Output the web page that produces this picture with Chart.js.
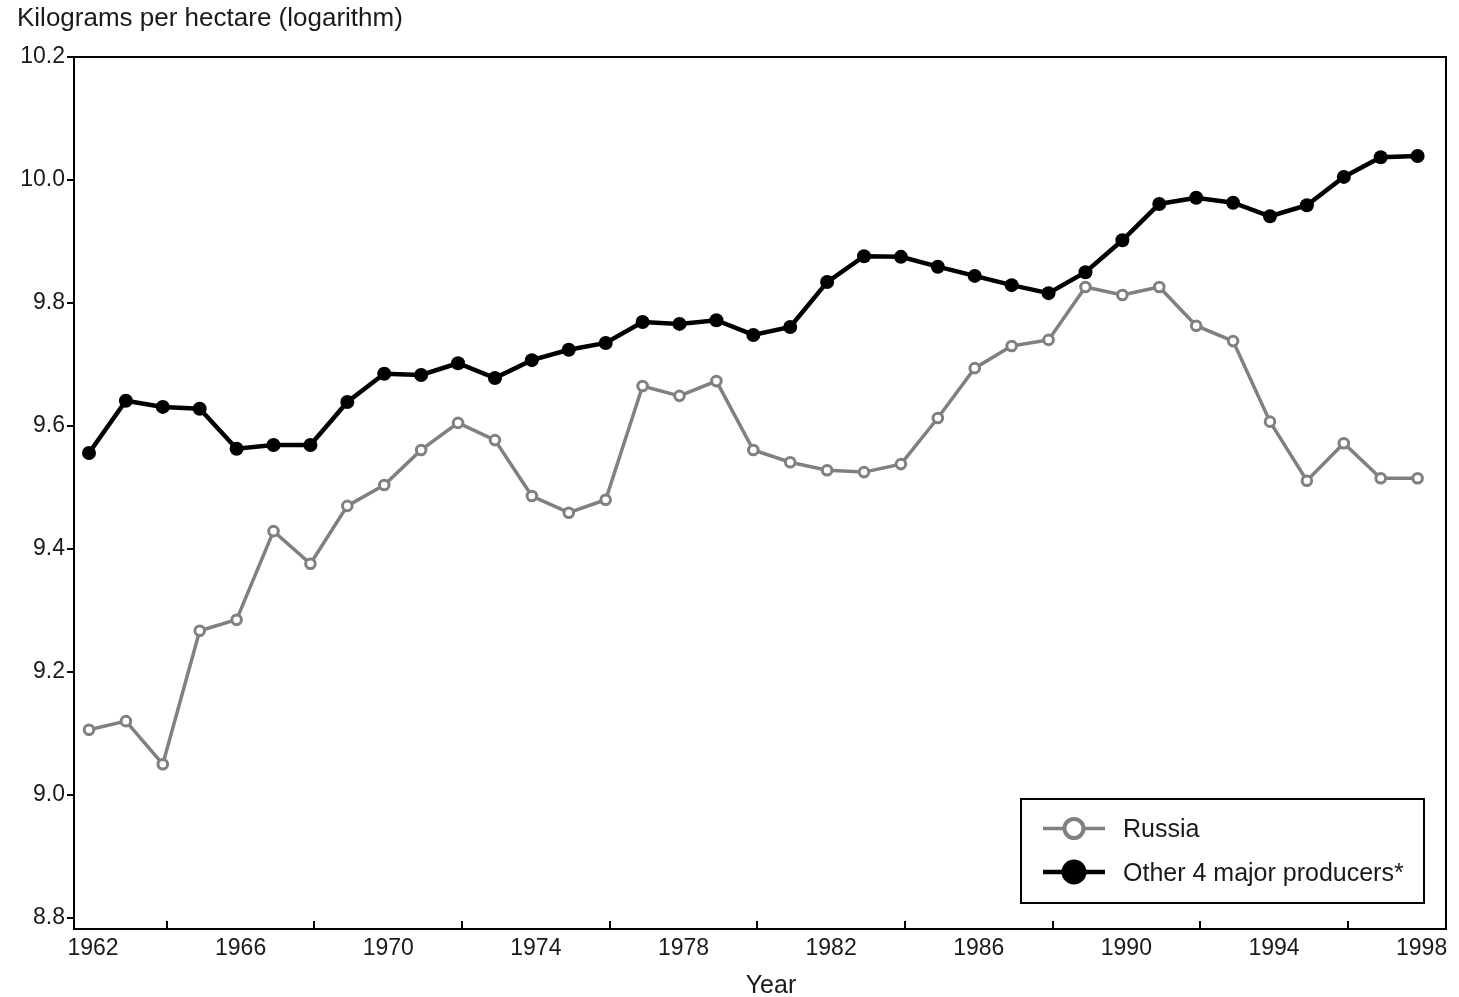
<!DOCTYPE html>
<html>
<head>
<meta charset="utf-8">
<script src="https://cdn.jsdelivr.net/npm/chart.js@4.4.1/dist/chart.umd.min.js"></script>
<style>
  html, body { margin: 0; padding: 0; background: #ffffff; }
  #wrap { width: 1459px; height: 997px; }
</style>
</head>
<body>
<div id="wrap"><canvas id="chart" width="1459" height="997"></canvas></div>
<script>
// Wheat yields, log of kilograms per hectare
const years = [1962, 1963, 1964, 1965, 1966, 1967, 1968, 1969, 1970, 1971,
               1972, 1973, 1974, 1975, 1976, 1977, 1978, 1979, 1980, 1981,
               1982, 1983, 1984, 1985, 1986, 1987, 1988, 1989, 1990, 1991,
               1992, 1993, 1994, 1995, 1996, 1997, 1998];

const russia = [9.106, 9.120, 9.050, 9.267, 9.285, 9.429, 9.376, 9.470, 9.504, 9.561,
                9.605, 9.577, 9.486, 9.459, 9.480, 9.665, 9.649, 9.673, 9.561, 9.541,
                9.528, 9.525, 9.538, 9.613, 9.694, 9.730, 9.740, 9.826, 9.813, 9.826,
                9.763, 9.738, 9.607, 9.511, 9.572, 9.515, 9.515];

const otherProducers = [9.556, 9.641, 9.631, 9.628, 9.563, 9.569, 9.569, 9.639, 9.685, 9.683,
                        9.702, 9.678, 9.707, 9.724, 9.735, 9.769, 9.766, 9.772, 9.748, 9.761,
                        9.834, 9.876, 9.875, 9.859, 9.844, 9.829, 9.816, 9.850, 9.902, 9.961,
                        9.971, 9.963, 9.941, 9.959, 10.005, 10.037, 10.039];

const xLabelYears = [1962, 1966, 1970, 1974, 1978, 1982, 1986, 1990, 1994, 1998];
const xMarkYears = [1964, 1968, 1972, 1976, 1980, 1984, 1988, 1992, 1996];
const yTicks = [8.8, 9.0, 9.2, 9.4, 9.6, 9.8, 10.0, 10.2];

const FONT = "'Liberation Sans', Arial, Helvetica, sans-serif";
const TEXT = '#1a1a1a';
const GRAY = '#808080';

const toPoints = (vals) => years.map((yr, i) => ({ x: yr, y: vals[i] }));

// Frame, inward year ticks, boxed legend and axis caption
const decorations = {
  id: 'decorations',
  afterDraw(chart) {
    const { ctx, chartArea: a, scales } = chart;
    ctx.save();

    ctx.strokeStyle = '#000';
    ctx.lineWidth = 2;
    ctx.strokeRect(a.left, a.top, a.right - a.left, a.bottom - a.top);

    ctx.beginPath();
    xMarkYears.forEach(yr => {
      const px = Math.round(scales.x.getPixelForValue(yr)) + 4;
      ctx.moveTo(px, a.bottom);
      ctx.lineTo(px, a.bottom - 8);
    });
    ctx.stroke();

    // axis caption
    ctx.fillStyle = TEXT;
    ctx.font = '25px ' + FONT;
    ctx.textAlign = 'center';
    ctx.textBaseline = 'alphabetic';
    ctx.fillText('Year', (a.left + a.right) / 2 + 11, 993);

    // legend
    const box = { left: 1021, top: 799, right: 1424, bottom: 903 };
    ctx.lineWidth = 2;
    ctx.strokeStyle = '#000';
    ctx.strokeRect(box.left, box.top, box.right - box.left, box.bottom - box.top);

    const rows = [
      { ds: chart.data.datasets[0], y: 828.5, r: 9.5, open: true },
      { ds: chart.data.datasets[1], y: 872, r: 12.5, open: false }
    ];
    rows.forEach(row => {
      ctx.strokeStyle = row.ds.borderColor;
      ctx.lineWidth = row.ds.borderWidth;
      ctx.beginPath();
      ctx.moveTo(1043, row.y);
      ctx.lineTo(1105, row.y);
      ctx.stroke();

      ctx.beginPath();
      ctx.arc(1074, row.y, row.r, 0, Math.PI * 2);
      if (row.open) {
        ctx.fillStyle = '#ffffff';
        ctx.fill();
        ctx.lineWidth = 4;
        ctx.strokeStyle = row.ds.pointBorderColor;
        ctx.stroke();
      } else {
        ctx.fillStyle = row.ds.pointBackgroundColor;
        ctx.fill();
      }

      ctx.fillStyle = TEXT;
      ctx.font = '25px ' + FONT;
      ctx.textAlign = 'left';
      ctx.textBaseline = 'middle';
      ctx.fillText(row.ds.label, 1123, row.y + 2);
    });

    ctx.restore();
  }
};

new Chart(document.getElementById('chart'), {
  type: 'line',
  data: {
    datasets: [
      {
        label: 'Russia',
        data: toPoints(russia),
        borderColor: GRAY,
        borderWidth: 3.5,
        pointRadius: 4.8,
        pointBorderWidth: 3,
        pointBorderColor: GRAY,
        pointBackgroundColor: '#ffffff',
        tension: 0,
        order: 1
      },
      {
        label: 'Other 4 major producers*',
        data: toPoints(otherProducers),
        borderColor: '#000000',
        borderWidth: 4.5,
        pointRadius: 7,
        pointBorderWidth: 0,
        pointBackgroundColor: '#000000',
        pointBorderColor: '#000000',
        tension: 0,
        order: 0
      }
    ]
  },
  options: {
    responsive: false,
    devicePixelRatio: 1,
    animation: false,
    events: [],
    layout: { padding: { left: 17, right: 13, top: 0, bottom: 0 } },
    plugins: {
      legend: { display: false },
      tooltip: { enabled: false },
      title: {
        display: true,
        text: 'Kilograms per hectare (logarithm)',
        align: 'start',
        color: TEXT,
        font: { family: FONT, size: 26, weight: 'normal' },
        padding: { top: 3.5, bottom: 22.3 }
      }
    },
    scales: {
      x: {
        type: 'linear',
        position: 'bottom',
        min: 1961.594,
        max: 1998.769,
        afterBuildTicks: (scale) => { scale.ticks = xLabelYears.map(v => ({ value: v })); },
        afterFit: (scale) => { scale.height = 68; },
        ticks: {
          autoSkip: false,
          maxRotation: 0,
          padding: 6,
          labelOffset: 4,
          color: TEXT,
          font: { family: FONT, size: 23 },
          callback: (v) => String(v)
        },
        grid: { display: true, drawOnChartArea: false, drawTicks: false },
        border: { display: true, color: '#000', width: 2 }
      },
      y: {
        type: 'linear',
        min: 8.782,
        max: 10.2,
        afterBuildTicks: (scale) => { scale.ticks = yTicks.map(v => ({ value: v })); },
        afterFit: (scale) => { scale.width = 57; },
        ticks: {
          padding: 2,
          color: TEXT,
          font: { family: FONT, size: 23 },
          callback: (v) => Number(v).toFixed(1)
        },
        grid: { display: true, drawOnChartArea: false, drawTicks: true, tickLength: 7, color: '#000', lineWidth: 2 },
        border: { display: true, color: '#000', width: 2 }
      }
    }
  },
  plugins: [decorations]
});
</script>
</body>
</html>
